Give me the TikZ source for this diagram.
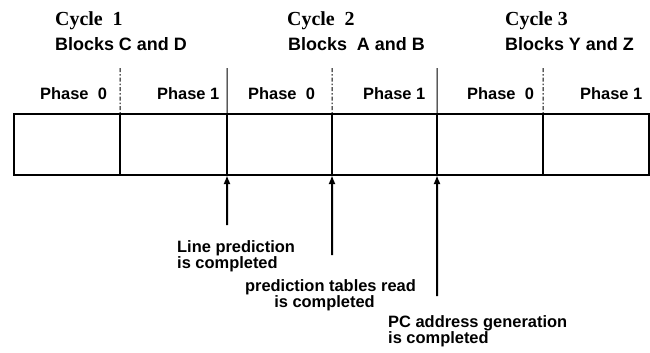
\documentclass[tikz,border=0pt]{standalone}
\usepackage{fontspec}
\setmainfont{Liberation Serif}
\setsansfont{Liberation Sans}
\usetikzlibrary{arrows.meta}
\begin{document}
\begin{tikzpicture}[x=1bp,y=-1bp,
  cell/.style={draw,line width=2bp,minimum height=61bp,inner sep=0pt,outer sep=0pt},
  cyclelbl/.style={anchor=base west,inner sep=0pt,font=\fontsize{20}{20}\selectfont\rmfamily\bfseries},
  blocklbl/.style={anchor=base west,inner sep=0pt,font=\fontsize{18}{18}\selectfont\sffamily\bfseries},
  phaselbl/.style={anchor=base west,inner sep=0pt,font=\fontsize{16.5}{16.5}\selectfont\sffamily\bfseries},
  notelbl/.style={anchor=north west,inner sep=0pt,align=left,font=\fontsize{16.5}{16}\selectfont\sffamily\bfseries},
  halfline/.style={line width=1bp,dash pattern=on 4bp off 2bp on 1.5bp off 2bp},
  cycleline/.style={line width=1bp},
  marker/.style={line width=2bp,-{Latex[length=9bp,width=7bp]}}]
\useasboundingbox (0,0) rectangle (650,352);
% cells
\node[cell,minimum width=106bp] (c1) at (67,144.5) {};
\node[cell,minimum width=107bp] (c2) at (173.5,144.5) {};
\node[cell,minimum width=105bp] (c3) at (279.5,144.5) {};
\node[cell,minimum width=105bp] (c4) at (384.5,144.5) {};
\node[cell,minimum width=106bp] (c5) at (490,144.5) {};
\node[cell,minimum width=105.5bp] (c6) at (595.75,144.5) {};
% upper separators
\coordinate (t1) at (120,68);
\coordinate (t2) at (227,68);
\coordinate (t3) at (332,68);
\coordinate (t4) at (437,68);
\coordinate (t5) at (543,68);
\draw[halfline] (t1) -- (c1.north east);
\draw[cycleline] (t2) -- (c2.north east);
\draw[halfline] (t3) -- (c3.north east);
\draw[cycleline] (t4) -- (c4.north east);
\draw[halfline] (t5) -- (c5.north east);
% cycle labels
\node[cyclelbl] (cy1) at (55,25) {Cycle\ \ 1};
\node[blocklbl] (bl1) at (55,50) {Blocks C and D};
\node[cyclelbl] (cy2) at (287,25) {Cycle\ \ 2};
\node[blocklbl] (bl2) at (288,50) {Blocks\ \ A and B};
\node[cyclelbl] (cy3) at (505,25) {Cycle 3};
\node[blocklbl] (bl3) at (505,50) {Blocks Y and Z};
% phase labels
\node[phaselbl] (p1) at (40,99) {Phase\ \ 0};
\node[phaselbl] (p2) at (157,99) {Phase 1};
\node[phaselbl] (p3) at (248,99) {Phase\ \ 0};
\node[phaselbl] (p4) at (363,99) {Phase 1};
\node[phaselbl] (p5) at (467,99) {Phase\ \ 0};
\node[phaselbl] (p6) at (580,99) {Phase 1};
% markers
\coordinate (a1) at (227,225);
\coordinate (a2) at (332,255);
\coordinate (a3) at (437,296);
\draw[marker] (a1) -- (c2.south east);
\draw[marker] (a2) -- (c3.south east);
\draw[marker] (a3) -- (c4.south east);
\node[notelbl] (n1) at (177,240) {Line prediction\\is completed};
\node[notelbl,align=center,anchor=north] (n2) at (330.5,279) {prediction tables read\\is completed\hspace*{12bp}};
\node[notelbl] (n3) at (388,315) {PC address generation\\is completed};
\end{tikzpicture}
\end{document}
